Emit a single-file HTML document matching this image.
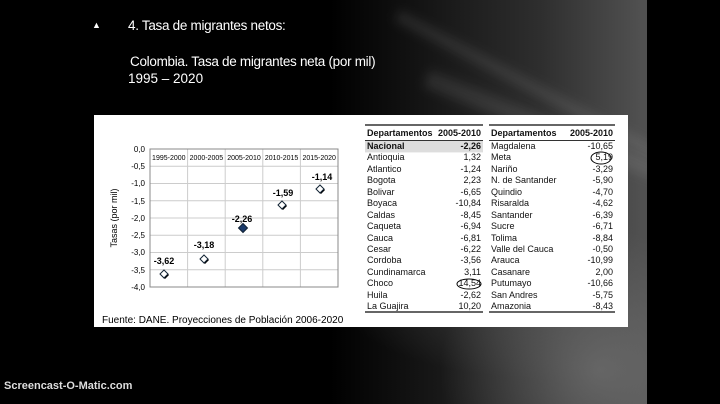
<!DOCTYPE html>
<html><head><meta charset="utf-8"><style>
body{margin:0;width:720px;height:404px;overflow:hidden;background:#000;font-family:"Liberation Sans",sans-serif;position:relative}
.bg{position:absolute;left:0;top:0;width:647px;height:404px;background:
radial-gradient(ellipse 160px 140px at 600px 370px,rgba(110,110,110,.8),rgba(0,0,0,0)),
radial-gradient(ellipse 220px 80px at 560px 300px,rgba(80,80,80,.6),rgba(0,0,0,0)),
linear-gradient(90deg,#000 330px,#2e2e2e 540px,#505050 640px)}
.streak{position:absolute;background:rgba(200,200,200,.12);transform-origin:left top;filter:blur(5px)}
.t{position:absolute;color:#fff;font-family:"Liberation Sans",sans-serif;font-size:14px;white-space:nowrap}
.panel{position:absolute;left:94px;top:115px;width:534px;height:212px;background:#fff}
table{position:absolute;border-collapse:collapse;font-size:9px;color:#111;white-space:nowrap}
td{padding:0 2px;height:11.43px;line-height:11.43px}
th{font-weight:bold;height:15px;line-height:15px;font-size:9px;padding:0 2px}
</style></head><body>
<div class="bg"></div>
<div class="streak" style="left:400px;top:10px;width:300px;height:12px;transform:rotate(28deg)"></div>
<div class="streak" style="left:430px;top:70px;width:260px;height:18px;transform:rotate(22deg)"></div>
<div style="position:absolute;left:647px;top:0;width:73px;height:404px;background:#000"></div>
<div class="t" style="left:92px;top:20px;font-size:9px">&#9650;</div>
<div class="t" style="left:128px;top:18px;font-size:13.5px;letter-spacing:-0.3px">4. Tasa de migrantes netos:</div>
<div class="t" style="left:130px;top:54px;font-size:13.5px;letter-spacing:-0.3px">Colombia. Tasa de migrantes neta (por mil)</div>
<div class="t" style="left:128px;top:71px;font-size:13.5px">1995 – 2020</div>
<div class="t" style="left:4px;top:380px;font-size:11px;font-weight:bold;color:#ddd">Screencast-O-Matic.com</div>
<div class="panel"></div>
<svg style="position:absolute;left:0;top:0" width="720" height="404" font-family="Liberation Sans" >
<g stroke="#ccc" stroke-width="1">
<line x1="150" y1="166.25" x2="338" y2="166.25"/><line x1="150" y1="183.5" x2="338" y2="183.5"/><line x1="150" y1="200.75" x2="338" y2="200.75"/><line x1="150" y1="218" x2="338" y2="218"/><line x1="150" y1="235.25" x2="338" y2="235.25"/><line x1="150" y1="252.5" x2="338" y2="252.5"/><line x1="150" y1="269.75" x2="338" y2="269.75"/>
<line x1="187.6" y1="149" x2="187.6" y2="287"/><line x1="225.2" y1="149" x2="225.2" y2="287"/><line x1="262.8" y1="149" x2="262.8" y2="287"/><line x1="300.4" y1="149" x2="300.4" y2="287"/>
</g>
<rect x="150" y="149" width="188" height="138" fill="none" stroke="#888"/>
<g font-size="7" text-anchor="middle" fill="#000"><text x="168.8" y="160">1995-2000</text><text x="206.4" y="160">2000-2005</text><text x="244" y="160">2005-2010</text><text x="281.6" y="160">2010-2015</text><text x="319.2" y="160">2015-2020</text></g>
<g font-size="8" text-anchor="end" fill="#000"><text x="145" y="152">0,0</text><text x="145" y="169">-0,5</text><text x="145" y="186">-1,0</text><text x="145" y="204">-1,5</text><text x="145" y="221">-2,0</text><text x="145" y="238">-2,5</text><text x="145" y="255">-3,0</text><text x="145" y="273">-3,5</text><text x="145" y="290">-4,0</text></g>
<text transform="translate(117,218) rotate(-90)" font-size="9" text-anchor="middle">Tasas (por mil)</text>
<g font-size="9" font-weight="bold" text-anchor="middle">
<text x="164" y="264">-3,62</text><text x="204" y="248">-3,18</text><text x="242" y="222">-2,26</text><text x="283" y="196">-1,59</text><text x="322" y="180">-1,14</text></g>
<g stroke-width="1">
<path d="M165,271 l4,4 -4,4 -4,-4z" fill="#000"/><path d="M164,270 l4,4 -4,4 -4,-4z" fill="#fff" stroke="#123"/>
<path d="M205,256 l4,4 -4,4 -4,-4z" fill="#000"/><path d="M204,255 l4,4 -4,4 -4,-4z" fill="#fff" stroke="#123"/>
<path d="M243,223.5 l4.5,4.5 -4.5,4.5 -4.5,-4.5z" fill="#1a3a6a" stroke="#123"/>
<path d="M283,202 l4,4 -4,4 -4,-4z" fill="#000"/><path d="M282,201 l4,4 -4,4 -4,-4z" fill="#fff" stroke="#123"/>
<path d="M321,186 l4,4 -4,4 -4,-4z" fill="#000"/><path d="M320,185 l4,4 -4,4 -4,-4z" fill="#fff" stroke="#123"/>
</g>
<text x="102" y="323" font-size="10">Fuente: DANE. Proyecciones de Población 2006-2020</text>
<rect x="365" y="141" width="118" height="11.4" fill="#ddd"/>
<g stroke="#333"><line x1="365" y1="125" x2="483" y2="125" stroke-width="1.5"/><line x1="489" y1="125" x2="615" y2="125" stroke-width="1.5"/>
<line x1="365" y1="140.5" x2="483" y2="140.5"/><line x1="489" y1="140.5" x2="615" y2="140.5"/>
<line x1="365" y1="312" x2="483" y2="312" stroke-width="1.5"/><line x1="489" y1="312" x2="615" y2="312" stroke-width="1.5"/></g>
<ellipse cx="469" cy="284" rx="12" ry="5" fill="none" stroke="#000"/>
<ellipse cx="601" cy="158" rx="10" ry="6" fill="none" stroke="#000"/>
</svg>
<table style="left:365px;top:126px;width:118px"><tr><th style="text-align:left">Departamentos</th><th style="text-align:right">2005-2010</th></tr>
<tr><td><b>Nacional</b></td><td align="right"><b>-2,26</b></td></tr>
<tr><td>Antioquia</td><td align="right">1,32</td></tr><tr><td>Atlantico</td><td align="right">-1,24</td></tr><tr><td>Bogota</td><td align="right">2,23</td></tr><tr><td>Bolivar</td><td align="right">-6,65</td></tr><tr><td>Boyaca</td><td align="right">-10,84</td></tr><tr><td>Caldas</td><td align="right">-8,45</td></tr><tr><td>Caqueta</td><td align="right">-6,94</td></tr><tr><td>Cauca</td><td align="right">-6,81</td></tr><tr><td>Cesar</td><td align="right">-6,22</td></tr><tr><td>Cordoba</td><td align="right">-3,56</td></tr><tr><td>Cundinamarca</td><td align="right">3,11</td></tr><tr><td>Choco</td><td align="right">14,54</td></tr><tr><td>Huila</td><td align="right">-2,62</td></tr><tr><td>La Guajira</td><td align="right">10,20</td></tr></table>
<table style="left:489px;top:126px;width:126px"><tr><th style="text-align:left">Departamentos</th><th style="text-align:right">2005-2010</th></tr>
<tr><td>Magdalena</td><td align="right">-10,65</td></tr><tr><td>Meta</td><td align="right">5,19</td></tr><tr><td>Nariño</td><td align="right">-3,29</td></tr><tr><td>N. de Santander</td><td align="right">-5,90</td></tr><tr><td>Quindio</td><td align="right">-4,70</td></tr><tr><td>Risaralda</td><td align="right">-4,62</td></tr><tr><td>Santander</td><td align="right">-6,39</td></tr><tr><td>Sucre</td><td align="right">-6,71</td></tr><tr><td>Tolima</td><td align="right">-8,84</td></tr><tr><td>Valle del Cauca</td><td align="right">-0,50</td></tr><tr><td>Arauca</td><td align="right">-10,99</td></tr><tr><td>Casanare</td><td align="right">2,00</td></tr><tr><td>Putumayo</td><td align="right">-10,66</td></tr><tr><td>San Andres</td><td align="right">-5,75</td></tr><tr><td>Amazonia</td><td align="right">-8,43</td></tr></table>
</body></html>
